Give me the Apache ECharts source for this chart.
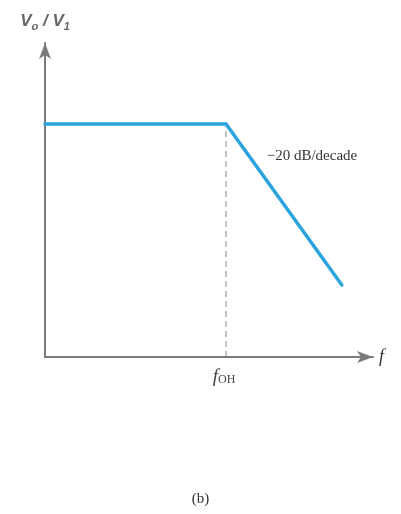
<!DOCTYPE html>
<html><head><meta charset="utf-8">
<style>html,body{margin:0;padding:0;background:#fff}#c{width:401px;height:514px}</style>
<script src="https://cdn.jsdelivr.net/npm/echarts@6/dist/echarts.min.js"></script>
</head><body><div id="c"></div>
<script>
// Response curve (normalized frequency units 0..100, gain units 0..100)
const responseX = [0, 55.2, 90.5];
const responseY = [74.2, 74.2, 22.9];
const cornerX = 55.2;
const guideY = [0, 74.2];
const slopeLabel = '\u221220 dB/decade';
const cornerLabel = 'f';
const cornerSub = 'OH';

const chart = echarts.init(document.getElementById('c'));
chart.setOption({
  animation: false,
  grid: {left: 45, right: 28, top: 43, bottom: 157},
  xAxis: {
    type: 'value', min: 0, max: 100,
    axisLine: {show: true, symbol: ['none', 'arrow'], symbolSize: [9, 16], symbolOffset: [0, 0],
      lineStyle: {color: '#7a7a7a', width: 2}},
    axisTick: {show: false}, axisLabel: {show: false}, splitLine: {show: false},
    name: 'f', nameLocation: 'end', nameGap: 6,
    nameTextStyle: {fontFamily: 'Liberation Serif', fontStyle: 'italic', fontSize: 18, color: '#333'}
  },
  yAxis: {
    type: 'value', min: 0, max: 100,
    axisLine: {show: true, symbol: ['none', 'arrow'], symbolSize: [9, 16], symbolOffset: [0, 0],
      lineStyle: {color: '#7a7a7a', width: 2}},
    axisTick: {show: false}, axisLabel: {show: false}, splitLine: {show: false},
    name: '{v|V}{s|o}{v| / V}{s|1}', nameLocation: 'end', nameGap: 11,
    nameTextStyle: {
      align: 'center',
      rich: {
        v: {fontFamily: 'Liberation Sans', fontStyle: 'italic', fontWeight: 'bold', fontSize: 17, color: '#666'},
        s: {fontFamily: 'Liberation Sans', fontStyle: 'italic', fontWeight: 'bold', fontSize: 11, color: '#666', verticalAlign: 'bottom', padding: [10, 0, 0, 0]}
      }
    }
  },
  series: [
    {
      type: 'line', symbol: 'none', silent: true,
      data: [[cornerX, guideY[0]], [cornerX, guideY[1]]],
      lineStyle: {color: '#888', width: 1, type: [6, 4]},
      label: {show: false},
      markPoint: {
        symbol: 'circle', symbolSize: 0,
        data: [{coord: [cornerX, 0], value: 0}],
        label: {show: true, position: 'bottom', distance: 10, offset: [-2, 0],
          formatter: '{f|' + cornerLabel + '}{s|' + cornerSub + '}',
          rich: {
            f: {fontFamily: 'Liberation Serif', fontStyle: 'italic', fontSize: 19, color: '#444'},
            s: {fontFamily: 'Liberation Serif', fontSize: 12, color: '#444', padding: [7, 0, 0, 0]}
          }}
      }
    },
    {
      type: 'line', symbol: 'none', silent: true,
      data: responseX.map((x, i) => [x, responseY[i]]),
      lineStyle: {color: '#2ba3dd', width: 3.5, cap: 'round', join: 'miter'},
      markPoint: {
        symbol: 'circle', symbolSize: 0,
        data: [{coord: [67.6, 64], value: 0}],
        label: {show: true, position: 'right', distance: 0, formatter: slopeLabel,
          fontFamily: 'Liberation Serif', fontSize: 15, color: '#333'}
      }
    }
  ],
  graphic: [
    {type: 'text', left: 'center', top: 492, style: {text: '(b)', font: '15px "Liberation Serif"', fill: '#333'}}
  ]
});
</script></body></html>
